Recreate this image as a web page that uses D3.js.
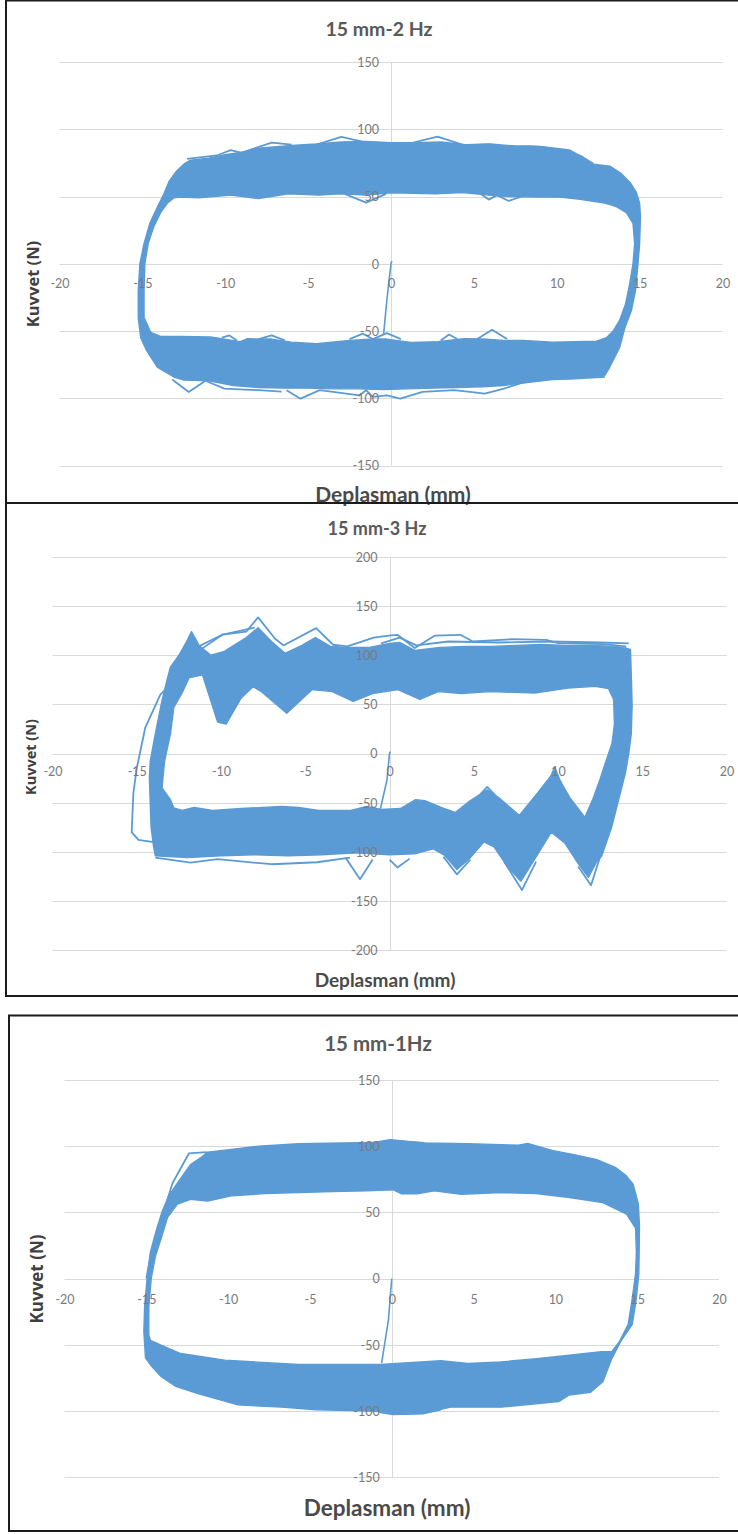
<!DOCTYPE html>
<html>
<head>
<meta charset="utf-8">
<script src="https://cdn.jsdelivr.net/npm/d3@7"></script>
<style>
  html, body { margin: 0; padding: 0; background: #fff; }
  svg { display: block; }
</style>
</head>
<body>
<script>
// ---------- shared axis ticks ----------
const xTickValues = [-20, -15, -10, -5, 0, 5, 10, 15, 20];
const yTicks150 = [-150, -100, -50, 0, 50, 100, 150];
const yTicks200 = [-200, -150, -100, -50, 0, 50, 100, 150, 200];

const chartTitles = ["15 mm-2 Hz", "15 mm-3 Hz", "15 mm-1Hz"];
const xAxisTitle = "Deplasman (mm)";
const yAxisTitle = "Kuvvet (N)";

// ---------- 15 mm - 2 Hz : [displacement mm, force N] ----------
const outer2Hz = [
  [-15.1,-55],[-15.25,-40],[-15.25,-20],[-15.15,0],[-14.9,15],[-14.55,30],[-14.1,42],[-13.7,52],
  [-13.4,61],[-13.0,68],[-12.5,74],[-12.1,77],[-11.0,78.5],[-10.0,81],[-9.0,83],[-8.0,86],
  [-6.0,88],[-4.5,89],[-3.0,90.5],[-1.5,91],[0,90],[1.5,90],[3.0,90.5],[4.5,88.5],[6.0,89],
  [7.5,87.5],[9.0,87],[10.5,84.5],[11.5,80],[12.2,74],[13.2,72.6],[13.9,67],[14.45,60],[14.8,53],
  [15.0,45],[15.05,35],[15.0,15],[14.9,0],[14.75,-20],[14.5,-35],[14.1,-48],[13.8,-62],
  [13.2,-76.8],[12.9,-83],[11.0,-85],[9.5,-86],[8.0,-88.5],[6.8,-90.5],[5.5,-91.5],[4.0,-92],
  [2.5,-92.5],[1.0,-93],[-0.5,-93.5],[-2.0,-93],[-3.5,-93],[-5.0,-92.5],[-6.5,-92.5],[-8.0,-92],
  [-9.5,-90.5],[-11.0,-87],[-12.5,-86.5],[-13.1,-84.2],[-14.1,-76.8],[-14.75,-64.4]
];
const inner2Hz = [
  [-14.9,-40],[-14.9,-20],[-14.85,0],[-14.65,15],[-14.3,28],[-13.9,38],[-13.5,45],[-13.1,49],
  [-12.7,49.6],[-11.6,49],[-9.65,51],[-8.0,48.5],[-6.2,52],[-4.35,51],[-3.0,52],[-1.5,51],
  [0,52.8],[2.7,52],[4.3,53],[5.9,51],[7.1,50],[8.7,49.6],[10.2,49.5],[11.4,47.9],[12.8,45.4],
  [13.6,42.5],[14.2,38],[14.6,30],[14.7,15],[14.6,0],[14.4,-15],[14.15,-30],[13.8,-42],
  [13.4,-50],[13.0,-55],[12.4,-57.5],[9.75,-58.3],[8.0,-57],[6.8,-57],[5.5,-56],[4.4,-55.8],
  [2.8,-58],[1.2,-58.5],[-0.25,-56],[-1.1,-56],[-2.5,-57],[-4.5,-59.5],[-6.0,-58.3],
  [-7.2,-56],[-8.7,-55.8],[-9.1,-58],[-10.9,-54.5],[-12.7,-54],[-13.9,-54],[-14.5,-51]
];
const traces2Hz = [
  [[-12.3,78],[-10.5,80.5],[-9.67,84.5],[-9.0,82.5],[-8.2,86],[-7.2,90],[-6.0,88.5]],
  [[-4.5,88.5],[-3.0,94.3],[-1.6,90.5],[0.97,89],[2.8,94.5],[4.3,88.5]],
  [[4.4,88],[5.86,88.8],[7.0,87],[8.3,87.5],[9.0,87],[10.76,84.5],[12.2,74.5]],
  [[-2.8,52],[-1.5,45.5],[-0.3,52]],
  [[5.4,52],[5.9,47.7],[6.4,51],[7.1,46.7],[7.9,50]],
  [[-10.2,-55],[-9.75,-53.3],[-9.3,-57]],
  [[-8.0,-56],[-7.2,-53.3],[-6.4,-57]],
  [[-2.5,-56],[-1.7,-52],[-1.1,-56],[-0.25,-51.6],[0.6,-56]],
  [[3.0,-57],[3.5,-52.6],[4.0,-56]],
  [[5.2,-56],[6.1,-49.1],[7.0,-56]],
  [[-13.2,-86],[-12.2,-95.3],[-11.2,-87],[-10.05,-92.8],[-8.0,-94],[-6.6,-95]],
  [[-6.3,-94],[-5.46,-100.3],[-4.3,-94],[-1.9,-97.8],[-1.5,-94],[-1.1,-99]],
  [[-1.1,-99],[-0.25,-97.8],[0.56,-100.3],[1.9,-95.3],[3.8,-94],[4.9,-95.5]],
  [[4.9,-95.5],[5.66,-96.5],[6.8,-92.8],[7.9,-88.5],[9.75,-86],[10.8,-85.5],[12.9,-84]]
];
const start2Hz = [[0.05,2],[0,0],[-0.25,-27],[-0.45,-53]];

// ---------- 15 mm - 3 Hz ----------
const outer3Hz = [
  [-13.9,-104],[-14.0,-95],[-14.15,-75],[-14.2,-50],[-14.25,-25],[-14.2,-8],[-13.9,20],
  [-13.5,54],[-13.2,75],[-13.0,88],[-12.5,100],[-12.1,112],[-11.75,124],[-11.3,110],
  [-10.6,100],[-9.8,104],[-8.5,118],[-7.8,128],[-7.0,114],[-6.2,102],[-5.2,110],[-4.4,118],
  [-3.5,109],[-2.5,108],[-1.2,108],[0,112],[0.6,113],[1.5,105],[3.0,108],[4.5,109],[6.0,109],
  [7.5,110],[9.0,111],[10.5,110],[12.0,110],[13.5,109],[14.3,106],[14.35,80],[14.4,50],
  [14.35,20],[14.2,0],[14.0,-20],[13.6,-47],[13.2,-74],[12.6,-104],[12.3,-110],[11.8,-126],
  [11.2,-112],[10.4,-91],[9.6,-80],[8.6,-108],[7.8,-130],[7.0,-115],[6.2,-95],[5.6,-90],
  [4.8,-106],[4.0,-118],[3.3,-104],[2.6,-97],[1.5,-102],[0,-103],[-2.0,-101],[-4.0,-103],
  [-6.0,-104],[-8.0,-103],[-10.0,-104],[-12.0,-106]
];
const inner3Hz = [
  [-13.5,-35],[-13.35,-8],[-13.0,20],[-12.8,47],[-12.3,62],[-11.9,77],[-11.1,80],[-10.2,32],
  [-9.7,30],[-8.8,56.5],[-8.1,68],[-7.6,63],[-6.1,41],[-4.6,65],[-3.4,63],[-2.15,53],
  [-1.0,61],[0.5,65],[1.8,55],[2.9,63],[4.25,61],[6.0,63],[8.6,61.6],[10.6,66.6],[12.2,68.3],
  [13.0,66],[13.3,55],[13.35,30],[13.2,10],[12.9,-5],[12.5,-26],[12.1,-45],[11.6,-65],
  [10.7,-45],[9.8,-18],[8.8,-40],[7.7,-63],[6.5,-45],[5.8,-37],[4.8,-48],[3.9,-60],[3.1,-55],
  [2.1,-48],[1.55,-47],[0.65,-56],[-0.5,-57],[-1.34,-54],[-2.3,-58],[-4.2,-58],[-5.4,-55],
  [-6.4,-54],[-8.8,-56],[-10.5,-58],[-11.6,-55],[-12.3,-58],[-12.8,-55.5],[-13.0,-47]
];
const traces3Hz = [
  [[-12.5,-88],[-14.1,-90],[-14.9,-88],[-15.3,-80],[-15.2,-40],[-15.0,-15],[-14.5,26],
   [-13.6,60],[-12.8,74],[-11.4,81],[-10.5,82]],
  [[-12.4,100],[-9.9,121],[-8.5,124],[-7.8,138.5],[-6.8,117],[-6.3,110],[-4.35,127.6],
   [-3.35,110.7],[-2.5,109],[-0.94,118],[-0.04,120],[0.47,120.8],[1.5,107.3],[2.7,120],
   [4.2,120.8],[4.95,114],[7.3,116.4],[9.3,115.7],[10.0,112.4],[12.7,111.3],[14.0,109],[14.1,90]],
  [[-11.1,107],[-9.9,121],[-8.0,128]],
  [[-0.5,112],[0.6,118],[1.6,110],[3.5,114],[6.5,113],[9.5,114],[12.5,113],[14.2,112]],
  [[-13.9,-106],[-11.8,-111],[-10.2,-107.6],[-7.0,-112.7],[-4.3,-110.7],[-2.35,-106]],
  [[-2.6,-106],[-1.75,-128],[-1.0,-108]],
  [[0,-108],[0.47,-116],[1.2,-107]],
  [[3.2,-105],[4.0,-123],[4.8,-108]],
  [[6.8,-110],[7.86,-139],[8.7,-110]],
  [[11.2,-115],[11.96,-134],[12.5,-105]],
  [[9.2,-40],[9.8,-14],[10.4,-40]],
  [[5.2,-45],[5.8,-34],[6.4,-45]]
];
const start3Hz = [[0.05,2],[0,0],[-0.15,-27],[-0.55,-57]];

// ---------- 15 mm - 1 Hz ----------
const outer1Hz = [
  [-15.05,-60],[-15.15,-40],[-15.1,-20],[-14.95,0],[-14.75,20],[-14.4,36],[-14.05,50],
  [-13.6,63],[-13.1,72],[-12.3,86],[-11.6,92],[-11.25,95.5],[-9.8,97.5],[-8.15,100],
  [-5.7,101.8],[-2.8,102.5],[-0.6,103],[-0.1,104.5],[0.5,104],[1.9,102.5],[4.65,101.8],
  [7.75,100.8],[8.3,102],[9.8,96.8],[11.05,93.8],[12.5,90],[13.7,83.7],[14.3,78],[14.75,71.3],
  [15.07,56.3],[15.14,40],[15.12,20],[15.1,3.8],[14.95,-15],[14.7,-34.6],[14.0,-47.4],
  [13.45,-60.5],[12.9,-78],[12.15,-86],[10.85,-88],[10.2,-93],[8.5,-95],[6.7,-97.2],
  [3.6,-97.2],[1.95,-101.8],[0.1,-102.3],[-0.5,-100.5],[-2.5,-99.8],[-4.65,-99.2],
  [-6.7,-97.2],[-9.4,-95.5],[-11.9,-86.7],[-13.2,-81.5],[-14.1,-74],[-14.7,-66]
];
const inner1Hz = [
  [-14.85,-42.6],[-14.85,-22],[-14.7,0],[-14.45,16.6],[-14.1,30],[-13.7,46.3],[-13.1,56.3],
  [-12.3,59.9],[-11.25,58.6],[-9.8,62.4],[-7.75,64.2],[-5.7,65],[-3.6,65.7],[-1.55,66.2],
  [0.1,67],[0.6,64],[1.55,64],[2.6,66.2],[4.25,63.7],[6.7,65],[8.8,64.2],[10.85,61.2],
  [12.9,57.4],[14.35,48.6],[14.9,38],[14.95,20],[14.9,3.8],[14.7,-15],[14.45,-34.6],
  [13.9,-48],[13.45,-55.3],[12.8,-55.3],[10.85,-58],[9.0,-60.5],[6.7,-63],[4.65,-64.2],
  [3.0,-62.2],[-0.7,-65],[-5.7,-65],[-10.2,-61.7],[-12.9,-56.7],[-14.1,-50.4],[-14.75,-46.7]
];
const traces1Hz = [
  [[-15.0,0],[-14.7,20],[-14.3,36],[-13.4,72],[-12.4,94.5],[-11.3,95.5]],
  [[-1.2,102.5],[-0.1,104.8],[1.0,103.5],[2.0,102.5]],
  [[-0.8,-101],[0.1,-102.6],[1.95,-102],[3.0,-99]]
];
const start1Hz = [[0,0],[-0.2,-31],[-0.62,-64]];

// ---------- layout & drawing ----------
const W = 738, H = 1534;
const BLUE = "#5B9BD5";
const GRID = "#d9d9d9";

const panels = [
  { frame: [6, 0.5, 503], xr: [59.5, 722.5], yDom: [-150, 150], yr: [465.5, 62], yTicks: yTicks150,
    title: chartTitles[0], titleXY: [379, 29], titleSize: 19.5,
    xTitleXY: [393, 495], xTitleSize: 21, yTitleXY: [33, 284], yTitleSize: 16.5,
    xLabOff: 20, outer: outer2Hz, inner: inner2Hz, traces: traces2Hz, start: start2Hz },
  { frame: [6, 503, 996], xr: [52.5, 726.5], yDom: [-200, 200], yr: [950, 557], yTicks: yTicks200,
    title: chartTitles[1], titleXY: [377, 529], titleSize: 18,
    xTitleXY: [385, 980], xTitleSize: 19, yTitleXY: [31, 757], yTitleSize: 14.5,
    xLabOff: 18, outer: outer3Hz, inner: inner3Hz, traces: traces3Hz, start: start3Hz },
  { frame: [9, 1015.5, 1531], xr: [64.5, 719], yDom: [-150, 150], yr: [1477, 1080], yTicks: yTicks150,
    title: chartTitles[2], titleXY: [378, 1044], titleSize: 20.5,
    xTitleXY: [387, 1508], xTitleSize: 22.5, yTitleXY: [37, 1279], yTitleSize: 17,
    xLabOff: 21, outer: outer1Hz, inner: inner1Hz, traces: traces1Hz, start: start1Hz }
];

const svg = d3.select("body").append("svg")
  .attr("width", W).attr("height", H)
  .attr("viewBox", `0 0 ${W} ${H}`);

svg.append("rect").attr("width", W).attr("height", H).attr("fill", "#fff");

panels.forEach(p => {
  const g = svg.append("g");
  const x = d3.scaleLinear().domain([-20, 20]).range(p.xr);
  const y = d3.scaleLinear().domain(p.yDom).range(p.yr);

  // horizontal gridlines
  g.append("g").selectAll("line").data(p.yTicks).join("line")
    .attr("x1", x(-20)).attr("x2", x(20))
    .attr("y1", d => Math.round(y(d)) + 0.5).attr("y2", d => Math.round(y(d)) + 0.5)
    .attr("stroke", GRID).attr("stroke-width", 1);

  // vertical axis line through x = 0
  g.append("line")
    .attr("x1", Math.round(x(0)) + 0.5).attr("x2", Math.round(x(0)) + 0.5)
    .attr("y1", y(p.yDom[1])).attr("y2", y(p.yDom[0]))
    .attr("stroke", GRID).attr("stroke-width", 1);

  const line = d3.line().x(d => x(d[0])).y(d => y(d[1]));

  // hysteresis band: outer envelope minus inner opening
  g.append("path")
    .attr("d", line(p.outer) + "Z" + line(p.inner) + "Z")
    .attr("fill", BLUE).attr("fill-rule", "evenodd")
    .attr("stroke", BLUE).attr("stroke-width", 1.4).attr("stroke-linejoin", "round");

  // individual cycles that stand out from the band
  g.append("g").selectAll("path").data(p.traces).join("path")
    .attr("d", line).attr("fill", "none")
    .attr("stroke", BLUE).attr("stroke-width", 1.8).attr("stroke-linejoin", "round");

  // initial loading segment
  g.append("path").attr("d", line(p.start)).attr("fill", "none")
    .attr("stroke", BLUE).attr("stroke-width", 1.6);

  // axes (labels only, drawn over the data)
  const xAxis = d3.axisBottom(x).tickValues(xTickValues).tickSize(0).tickFormat(d => String(d));
  const xg = g.append("g").attr("transform", `translate(0,${y(0)})`).call(xAxis);
  xg.select(".domain").remove();
  xg.selectAll("text").attr("y", p.xLabOff).attr("dy", "0.35em")
    .attr("font-family", "Lato, sans-serif").attr("font-size", 12.5).attr("fill", "#7a7a7a");

  const yAxis = d3.axisLeft(y).tickValues(p.yTicks).tickSize(0).tickFormat(d => String(d));
  const yg = g.append("g").attr("transform", `translate(${x(0)},0)`).call(yAxis);
  yg.select(".domain").remove();
  yg.selectAll("text").attr("x", -12).attr("dy", "0.35em")
    .attr("font-family", "Lato, sans-serif").attr("font-size", 12.5).attr("fill", "#7a7a7a");

  // titles
  g.append("text").text(p.title)
    .attr("x", p.titleXY[0]).attr("y", p.titleXY[1]).attr("dy", "0.35em")
    .attr("text-anchor", "middle").attr("font-family", "Lato, sans-serif")
    .attr("font-weight", 700).attr("font-size", p.titleSize).attr("fill", "#595959");

  g.append("text").text(xAxisTitle)
    .attr("x", p.xTitleXY[0]).attr("y", p.xTitleXY[1]).attr("dy", "0.35em")
    .attr("text-anchor", "middle").attr("font-family", "Lato, sans-serif")
    .attr("font-weight", 700).attr("font-size", p.xTitleSize).attr("fill", "#4a4a4a");

  g.append("text").text(yAxisTitle)
    .attr("transform", `translate(${p.yTitleXY[0]},${p.yTitleXY[1]}) rotate(-90)`)
    .attr("dy", "0.35em").attr("text-anchor", "middle")
    .attr("font-family", "'Open Sans', sans-serif")
    .attr("font-weight", 700).attr("font-size", p.yTitleSize).attr("fill", "#404040");

  // panel frame (open to the right edge of the page)
  const [fl, ft, fb] = p.frame;
  g.append("path")
    .attr("d", `M${W + 5},${ft}H${fl}V${fb}H${W + 5}`)
    .attr("fill", "none").attr("stroke", "#1b1b1b").attr("stroke-width", 2);
});
</script>
</body>
</html>
